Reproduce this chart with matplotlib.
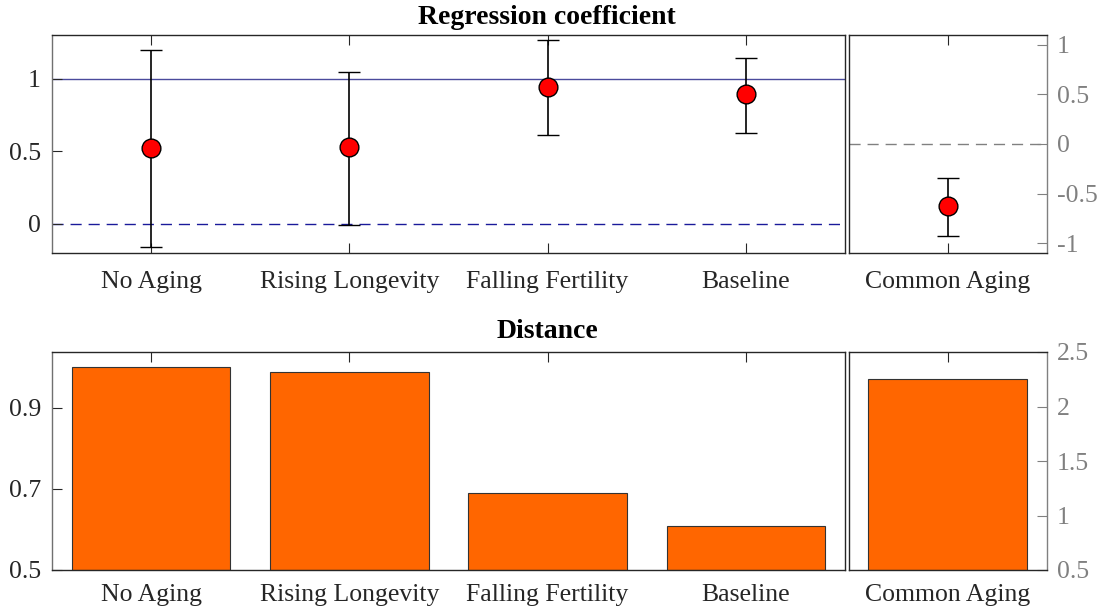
import matplotlib
matplotlib.use("Agg")
import matplotlib.pyplot as plt

plt.rcParams['font.family'] = ['Liberation Serif', 'DejaVu Serif']
plt.rcParams['mathtext.fontset'] = 'stix'

categories = ["No Aging", "Rising Longevity", "Falling Fertility", "Baseline"]
coef = [0.52, 0.527, 0.945, 0.897]
coef_hi = [1.20, 1.048, 1.267, 1.144]
coef_lo = [-0.16, -0.005, 0.61, 0.623]

common_label = ["Common Aging"]
common_coef = [-0.623]
common_hi = [-0.34]
common_lo = [-0.926]

distance = [1.0, 0.989, 0.69, 0.609]
common_distance = [2.252]

left_coef_ticks = [0, 0.5, 1]
right_coef_ticks = [-1, -0.5, 0, 0.5, 1]
left_dist_ticks = [0.5, 0.7, 0.9]
right_dist_ticks = [0.5, 1, 1.5, 2, 2.5]

FS = 18.5
TFS = 20
DARK = '#262626'
GREY = '#808080'

fig = plt.figure(figsize=(11, 6.1), dpi=100)
W, H = 1100, 610

def rect(x0, x1, y0, y1):
    return [x0 / W, 1 - y1 / H, (x1 - x0) / W, (y1 - y0) / H]

axL1 = fig.add_axes(rect(52, 845, 35, 253))
axR1 = fig.add_axes(rect(848.5, 1047, 35, 253))
axL2 = fig.add_axes(rect(52, 845, 352, 570))
axR2 = fig.add_axes(rect(848.5, 1047, 352, 570))

def style_left(ax, xpad):
    for s in ['left', 'bottom', 'top', 'right']:
        ax.spines[s].set_color(DARK)
        ax.spines[s].set_linewidth(1.0)
    ax.spines['left'].set_color('#707070')
    ax.tick_params(axis='both', direction='in', length=7, width=0.8, colors=DARK,
                   labelsize=FS, top=True, bottom=True, left=True, right=False)
    ax.tick_params(axis='x', pad=xpad)
    ax.tick_params(axis='y', pad=8)

def style_right(ax, xpad):
    for s in ['left', 'bottom', 'top']:
        ax.spines[s].set_color(DARK)
        ax.spines[s].set_linewidth(1.0)
    ax.spines['right'].set_color(GREY)
    ax.spines['right'].set_linewidth(1.0)
    ax.yaxis.tick_right()
    ax.tick_params(axis='y', direction='in', length=7, width=0.8, colors=GREY,
                   labelcolor=GREY, labelsize=FS, left=False, right=True, pad=7)
    ax.tick_params(axis='x', direction='in', length=7, width=0.8, colors=DARK,
                   labelsize=FS, top=True, bottom=True, pad=xpad)

# Top left: regression coefficients
xs = list(range(1, len(categories) + 1))
yerr = [[c - l for c, l in zip(coef, coef_lo)], [h - c for c, h in zip(coef, coef_hi)]]
axL1.axhline(1, color='#4a4a9c', lw=1.0, zorder=1)
axL1.axhline(0, color='#1a1a9a', lw=1.0, ls=(0, (8, 5)), zorder=1)
axL1.errorbar(xs, coef, yerr=yerr, fmt='o', color='black', ecolor='black', elinewidth=1.2,
              capsize=8, capthick=1.2, markersize=13.5, markerfacecolor='#ff0000',
              markeredgecolor='black', markeredgewidth=1.0, zorder=3)
axL1.set_xlim(0.5, len(categories) + 0.5)
axL1.set_ylim(-0.2, 1.3)
axL1.set_xticks(xs)
axL1.set_xticklabels(categories)
axL1.set_yticks(left_coef_ticks)
axL1.set_yticklabels(['0', '0.5', '1'])
style_left(axL1, 13)

# Top right: common aging
cerr = [[common_coef[0] - common_lo[0]], [common_hi[0] - common_coef[0]]]
axR1.axhline(0, color=GREY, lw=1.0, ls=(0, (8, 5)), zorder=1)
axR1.errorbar([1], common_coef, yerr=cerr, fmt='o', color='black', ecolor='black', elinewidth=1.2,
              capsize=8, capthick=1.2, markersize=13.5, markerfacecolor='#ff0000',
              markeredgecolor='black', markeredgewidth=1.0, zorder=3)
axR1.set_xlim(0.5, 1.5)
axR1.set_ylim(-1.1, 1.1)
axR1.set_xticks([1])
axR1.set_xticklabels(common_label)
axR1.set_yticks(right_coef_ticks)
axR1.set_yticklabels(['-1', '-0.5', '0', '0.5', '1'])
style_right(axR1, 13)

# Bottom left: distance bars
axL2.bar(xs, [d - 0.5 for d in distance], bottom=0.5, width=0.8, color='#ff6600',
         edgecolor='#333333', linewidth=0.8, zorder=2)
axL2.set_xlim(0.5, len(categories) + 0.5)
axL2.set_ylim(0.5, 1.038)
axL2.set_xticks(xs)
axL2.set_xticklabels(categories)
axL2.set_yticks(left_dist_ticks)
axL2.set_yticklabels(['0.5', '0.7', '0.9'])
style_left(axL2, 10)

axR2.bar([1], [common_distance[0] - 0.5], bottom=0.5, width=0.8, color='#ff6600',
         edgecolor='#333333', linewidth=0.8, zorder=2)
axR2.set_xlim(0.5, 1.5)
axR2.set_ylim(0.5, 2.5)
axR2.set_xticks([1])
axR2.set_xticklabels(common_label)
axR2.set_yticks(right_dist_ticks)
axR2.set_yticklabels(['0.5', '1', '1.5', '2', '2.5'])
style_right(axR2, 10)

fig.text(547 / W, 1 - 18 / H, 'Regression coefficient', ha='center', va='center',
         fontsize=TFS, fontweight='bold')
fig.text(547 / W, 1 - 331 / H, 'Distance', ha='center', va='center',
         fontsize=TFS, fontweight='bold')

fig.savefig('out.png', dpi=100)
